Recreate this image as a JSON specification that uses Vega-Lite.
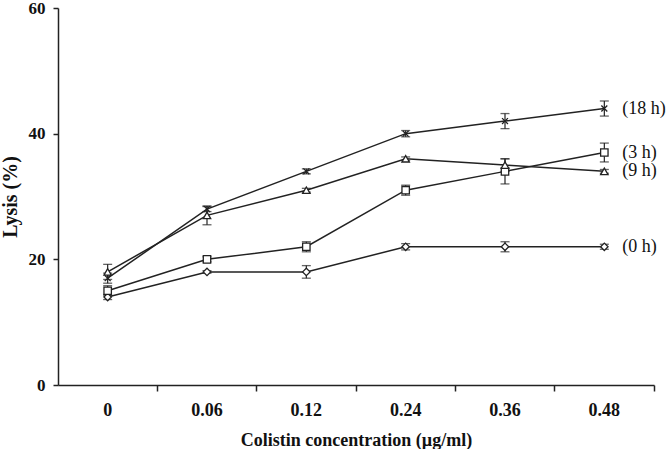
{
  "$schema": "https://vega.github.io/schema/vega-lite/v6.json",
  "width": 596,
  "height": 377,
  "autosize": {"type": "none"},
  "padding": {"left": 58, "top": 8, "right": 12, "bottom": 64},
  "background": "white",
  "config": {
    "view": {"stroke": null},
    "font": "Liberation Serif",
    "axis": {"grid": false, "domainColor": "#222", "tickColor": "#222", "labelColor": "#111", "titleColor": "#111", "labelFont": "Liberation Serif", "titleFont": "Liberation Serif", "labelFontWeight": "bold", "titleFontWeight": "bold", "labelFontSize": 18, "titleFontSize": 18, "domainWidth": 1.5, "tickWidth": 1.5}
  },
  "data": {
    "values": [
      {"conc": "0", "series": "(0 h)", "lysis": 14, "lo": 13.6, "hi": 14.4},
      {"conc": "0.06", "series": "(0 h)", "lysis": 18, "lo": 17.8, "hi": 18.2},
      {"conc": "0.12", "series": "(0 h)", "lysis": 18, "lo": 17, "hi": 19},
      {"conc": "0.24", "series": "(0 h)", "lysis": 22, "lo": 21.5, "hi": 22.5},
      {"conc": "0.36", "series": "(0 h)", "lysis": 22, "lo": 21.2, "hi": 22.8},
      {"conc": "0.48", "series": "(0 h)", "lysis": 22, "lo": 21.6, "hi": 22.4},
      {"conc": "0", "series": "(3 h)", "lysis": 15, "lo": 14.2, "hi": 15.8},
      {"conc": "0.06", "series": "(3 h)", "lysis": 20, "lo": 19.6, "hi": 20.4},
      {"conc": "0.12", "series": "(3 h)", "lysis": 22, "lo": 21.2, "hi": 22.8},
      {"conc": "0.24", "series": "(3 h)", "lysis": 31, "lo": 30.2, "hi": 31.8},
      {"conc": "0.36", "series": "(3 h)", "lysis": 34, "lo": 32, "hi": 36},
      {"conc": "0.48", "series": "(3 h)", "lysis": 37, "lo": 35.5, "hi": 38.5},
      {"conc": "0", "series": "(9 h)", "lysis": 18, "lo": 16.8, "hi": 19.2},
      {"conc": "0.06", "series": "(9 h)", "lysis": 27, "lo": 25.5, "hi": 28.5},
      {"conc": "0.12", "series": "(9 h)", "lysis": 31, "lo": 30.7, "hi": 31.3},
      {"conc": "0.24", "series": "(9 h)", "lysis": 36, "lo": 35.7, "hi": 36.3},
      {"conc": "0.36", "series": "(9 h)", "lysis": 35, "lo": 34, "hi": 36},
      {"conc": "0.48", "series": "(9 h)", "lysis": 34, "lo": 33.7, "hi": 34.3},
      {"conc": "0", "series": "(18 h)", "lysis": 17, "lo": 16.2, "hi": 17.8},
      {"conc": "0.06", "series": "(18 h)", "lysis": 28, "lo": 27.6, "hi": 28.4},
      {"conc": "0.12", "series": "(18 h)", "lysis": 34, "lo": 33.6, "hi": 34.4},
      {"conc": "0.24", "series": "(18 h)", "lysis": 40, "lo": 39.5, "hi": 40.5},
      {"conc": "0.36", "series": "(18 h)", "lysis": 42, "lo": 40.8, "hi": 43.2},
      {"conc": "0.48", "series": "(18 h)", "lysis": 44, "lo": 42.8, "hi": 45.2}
    ]
  },
  "encoding": {
    "x": {
      "field": "conc", "type": "nominal", "sort": ["0", "0.06", "0.12", "0.24", "0.36", "0.48"],
      "scale": {"type": "band", "paddingInner": 0, "paddingOuter": 0},
      "axis": {"title": "Colistin concentration (µg/ml)", "labelAngle": 0, "bandPosition": 1, "tickSize": 6, "labelPadding": 10, "titlePadding": 12}
    },
    "y": {
      "field": "lysis", "type": "quantitative",
      "scale": {"domain": [0, 60], "nice": false},
      "axis": {"title": "Lysis (%)", "values": [0, 20, 40, 60], "tickSize": 5, "labelPadding": 8, "titlePadding": 8, "labelFontSize": 17, "titleFontSize": 20}
    }
  },
  "layer": [
    {
      "mark": {"type": "line", "color": "#222", "strokeWidth": 1.5},
      "encoding": {"detail": {"field": "series"}}
    },
    {
      "mark": {"type": "rule", "color": "#222", "strokeWidth": 1.2},
      "encoding": {"y": {"field": "lo", "type": "quantitative"}, "y2": {"field": "hi"}}
    },
    {
      "mark": {"type": "tick", "color": "#222", "size": 9, "thickness": 1.3},
      "encoding": {"y": {"field": "lo", "type": "quantitative"}}
    },
    {
      "mark": {"type": "tick", "color": "#222", "size": 9, "thickness": 1.3},
      "encoding": {"y": {"field": "hi", "type": "quantitative"}}
    },
    {
      "mark": {"type": "point", "filled": false, "fill": "white", "stroke": "#222", "strokeWidth": 1.3, "opacity": 1, "size": 55},
      "encoding": {
        "shape": {
          "field": "series", "type": "nominal", "legend": null,
          "scale": {"domain": ["(0 h)", "(3 h)", "(9 h)", "(18 h)"], "range": ["diamond", "square", "triangle-up", "M-0.8,-0.8L0.8,0.8M0.8,-0.8L-0.8,0.8"]}
        }
      }
    },
    {
      "transform": [{"filter": "datum.conc == '0.48'"}],
      "mark": {"type": "text", "align": "left", "baseline": "middle", "dx": 18, "font": "Liberation Serif", "fontSize": 18, "color": "#111"},
      "encoding": {"text": {"field": "series"}}
    }
  ]
}
